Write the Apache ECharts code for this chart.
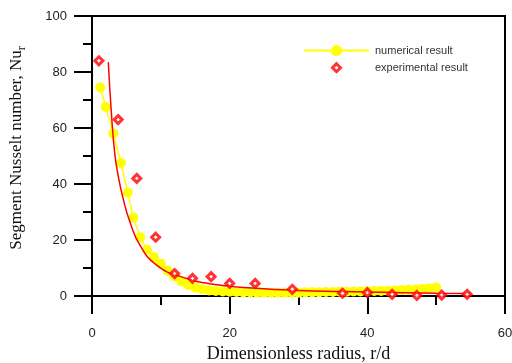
<!DOCTYPE html>
<html>
<head>
<meta charset="utf-8">
<script src="https://cdn.jsdelivr.net/npm/echarts@6/dist/echarts.min.js"></script>
<style>
html,body{margin:0;padding:0;background:#fff;}
#c{width:512px;height:363px;}
</style>
</head>
<body>
<div id="c"></div>
<script>
// Numerical result (yellow line with circles)
var numX = [1.2, 2.0, 3.1, 4.2, 5.2, 6.0, 7.0, 8.0, 9.0, 10.0, 11.0, 12.0, 13.0, 14.0, 15.0, 16.0, 17.0, 18.0, 19.0, 20.0,
            21, 22, 23, 24, 25, 26, 27, 28, 29, 30, 31, 32, 33, 34, 35, 36, 37, 38, 39, 40,
            41, 42, 43, 44, 45, 46, 47, 48, 49, 50];
var numY = [74.5, 67.5, 58, 47.5, 37, 28, 21, 16.5, 13.8, 11.5, 9.0, 7.0, 5.2, 3.9, 3.0, 2.4, 2.0, 1.8, 1.6, 1.5,
            1.4, 1.3, 1.3, 1.2, 1.2, 1.2, 1.2, 1.2, 1.2, 1.2, 1.3, 1.3, 1.3, 1.4, 1.4, 1.5, 1.5, 1.6, 1.6, 1.7,
            1.8, 1.8, 1.9, 2.0, 2.1, 2.2, 2.3, 2.5, 2.7, 3.0];
// Experimental result (red diamonds)
var expX = [1.0, 3.8, 6.5, 9.25, 12.0, 14.6, 17.3, 20.0, 23.7, 29.1, 36.4, 40.0, 43.6, 47.2, 50.8, 54.5];
var expY = [84, 63, 42, 21, 8, 6.3, 6.9, 4.5, 4.5, 2.4, 1.0, 1.2, 0.6, 0.2, 0.3, 0.6];
// Fitted curve (red line)
var fitX = [2.37, 2.8, 3.3, 3.8, 4.5, 5.5, 7.0, 9.4, 12.8, 17.6, 24.4, 30, 36, 40, 45, 50, 55];
var fitY = [83.5, 66, 51, 43, 35, 26.5, 18, 11, 7, 4.2, 2.7, 2.0, 1.6, 1.4, 1.2, 1.0, 0.9];

var xTicks = [0, 20, 40, 60];
var yTicks = [0, 20, 40, 60, 80, 100];

function pairs(xs, ys){ return xs.map(function(x,i){ return [x, ys[i]]; }); }

var DIAMOND = 'path://M0,-1L1,0L0,1L-1,0Z';
// same diamond with a larger invisible bounding box, so the legend icon is drawn smaller
var DIAMOND_LEGEND = 'path://M-1.75,-1.75M1.75,1.75M0,-1L1,0L0,1L-1,0Z';
var chart = echarts.init(document.getElementById('c'), null, {renderer:'canvas'});
var axisCommon = {
  axisLine: {show: true, lineStyle: {color: '#000', width: 2}},
  axisTick: {show: true, inside: false, length: 18, lineStyle: {color: '#000', width: 2}},
  minorTick: {show: true, splitNumber: 2, length: 9, lineStyle: {color: '#000', width: 2}},
  splitLine: {show: false},
  axisLabel: {color: '#222', fontSize: 13, fontFamily: 'Liberation Sans, Arial, sans-serif'}
};
chart.setOption({
  animation: false,
  backgroundColor: '#fff',
  grid: {left: 92, right: 7, top: 16, bottom: 67, containLabel: false, outerBoundsMode: 'none',
         show: true, borderColor: '#000', borderWidth: 2, backgroundColor: 'transparent'},
  xAxis: Object.assign({}, axisCommon, {
    type: 'value', min: xTicks[0], max: xTicks[xTicks.length-1], interval: 20,
    axisLabel: Object.assign({}, axisCommon.axisLabel, {margin: 31}),
    name: 'Dimensionless radius, r/d', nameLocation: 'middle', nameGap: 46,
    nameTextStyle: {fontFamily: 'Liberation Serif, Times New Roman, serif', fontSize: 18, color: '#111'}
  }),
  yAxis: Object.assign({}, axisCommon, {
    type: 'value', min: yTicks[0], max: yTicks[yTicks.length-1], interval: 20,
    axisLabel: Object.assign({}, axisCommon.axisLabel, {margin: 25}),
    name: '{a|Segment Nusselt number, Nu}{b|r}', nameLocation: 'middle', nameGap: 64, nameRotate: 90,
    nameTextStyle: {
      fontFamily: 'Liberation Serif, Times New Roman, serif', fontSize: 17, color: '#111',
      padding: [0, 0, 0, 16],
      rich: {
        a: {fontFamily: 'Liberation Serif, Times New Roman, serif', fontSize: 17, color: '#111'},
        b: {fontFamily: 'Liberation Serif, Times New Roman, serif', fontSize: 12, color: '#111', padding: [10,0,0,0]}
      }
    }
  }),
  legend: {
    orient: 'vertical', left: 298, top: 40, itemWidth: 65, itemHeight: 14, itemGap: 3,
    textStyle: {fontFamily: 'Liberation Sans, Arial, sans-serif', fontSize: 11, color: '#333', padding: [0,0,0,1]},
    data: [
      {name: 'numerical result'},
      {name: 'experimental result', icon: DIAMOND_LEGEND,
       itemStyle: {color: '#ffffff', borderColor: '#ff0000', borderWidth: 3}}
    ]
  },
  series: [
    {
      name: 'numerical result', type: 'line', data: pairs(numX, numY),
      symbol: 'circle', symbolSize: 10, showSymbol: true,
      lineStyle: {color: '#ffff00', width: 1.5},
      itemStyle: {color: '#ffff00'}, z: 2
    },
    {
      name: 'fit', type: 'line', data: pairs(fitX, fitY), smooth: true,
      symbol: 'none', lineStyle: {color: '#ff0000', width: 1.5}, z: 3
    },
    {
      name: 'experimental result', type: 'scatter', data: pairs(expX, expY),
      symbol: DIAMOND, symbolSize: 8, symbolKeepAspect: true,
      itemStyle: {color: '#ffffff', borderColor: '#ff0000', borderWidth: 3}, z: 4
    }
  ]
});
</script>
</body>
</html>
